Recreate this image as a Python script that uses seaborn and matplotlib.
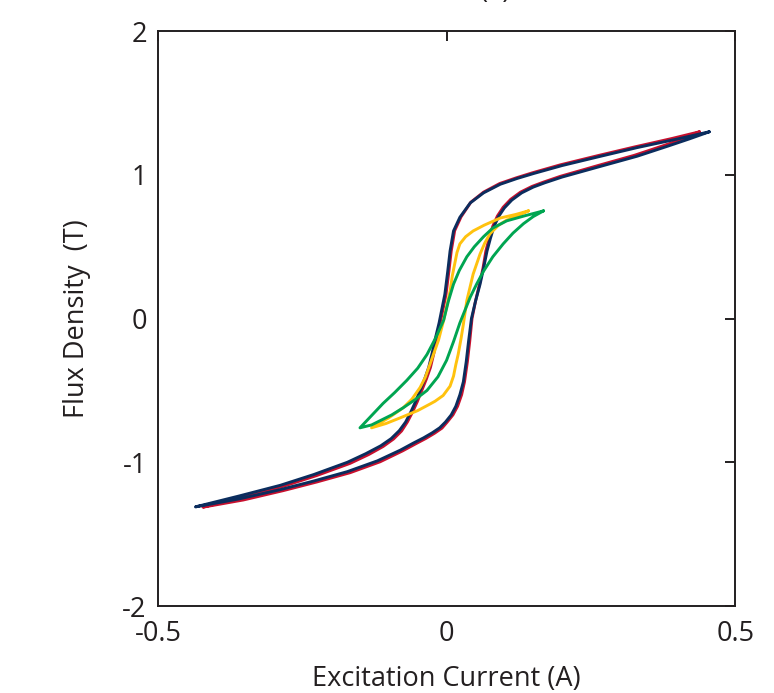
import numpy as np
import pandas as pd
import matplotlib
matplotlib.use("Agg")
import matplotlib.pyplot as plt
import seaborn as sns

# ---- data ----
blue_x = [0.455, 0.400, 0.330, 0.267, 0.200, 0.151, 0.122, 0.093, 0.064, 0.041, 0.023, 0.012, 0.006,
          0.002, -0.003, -0.008, -0.013, -0.019, -0.025, -0.031, -0.038, -0.046, -0.054, -0.062,
          -0.071, -0.082, -0.096, -0.114, -0.140, -0.172, -0.230, -0.288, -0.360, -0.435,
          -0.360, -0.288, -0.230, -0.172, -0.120, -0.080, -0.057, -0.040, -0.025, -0.012, -0.002,
          0.008, 0.016, 0.023, 0.029, 0.034, 0.038, 0.043, 0.050, 0.058, 0.064, 0.070, 0.076,
          0.082, 0.090, 0.100, 0.113, 0.130, 0.150, 0.170, 0.200, 0.267, 0.330, 0.383, 0.420, 0.455]
blue_y = [1.300, 1.250, 1.190, 1.130, 1.065, 1.010, 0.975, 0.935, 0.875, 0.805, 0.705, 0.610, 0.470,
          0.330, 0.170, 0.070, -0.030, -0.130, -0.240, -0.340, -0.420, -0.500, -0.580, -0.650,
          -0.720, -0.780, -0.835, -0.885, -0.940, -1.000, -1.085, -1.160, -1.235, -1.310,
          -1.255, -1.190, -1.130, -1.065, -0.990, -0.915, -0.865, -0.830, -0.795, -0.760, -0.720,
          -0.670, -0.610, -0.530, -0.440, -0.300, -0.160, 0.000, 0.120, 0.240, 0.350, 0.470, 0.560,
          0.640, 0.710, 0.770, 0.825, 0.875, 0.915, 0.945, 0.985, 1.060, 1.130, 1.200, 1.250, 1.300]

red_x = [0.438, 0.390, 0.325, 0.263, 0.197, 0.149, 0.121, 0.092, 0.064, 0.042, 0.025, 0.014, 0.008,
         0.004, -0.001, -0.006, -0.011, -0.017, -0.022, -0.028, -0.035, -0.043, -0.051, -0.059,
         -0.068, -0.078, -0.092, -0.110, -0.135, -0.167, -0.225, -0.283, -0.352, -0.422,
         -0.352, -0.283, -0.225, -0.167, -0.115, -0.076, -0.053, -0.036, -0.021, -0.008, 0.001,
         0.011, 0.019, 0.026, 0.031, 0.036, 0.040, 0.044, 0.050, 0.057, 0.063, 0.068, 0.074,
         0.080, 0.088, 0.098, 0.111, 0.128, 0.148, 0.168, 0.197, 0.263, 0.325, 0.376, 0.410, 0.438]
red_y = [1.300, 1.253, 1.194, 1.135, 1.070, 1.015, 0.980, 0.940, 0.880, 0.810, 0.708, 0.612, 0.470,
         0.330, 0.170, 0.070, -0.030, -0.130, -0.240, -0.340, -0.420, -0.500, -0.580, -0.650,
         -0.720, -0.782, -0.838, -0.890, -0.946, -1.007, -1.092, -1.167, -1.242, -1.312,
         -1.262, -1.197, -1.137, -1.072, -0.996, -0.920, -0.870, -0.834, -0.798, -0.762, -0.720,
         -0.670, -0.610, -0.530, -0.440, -0.300, -0.160, 0.000, 0.120, 0.240, 0.350, 0.470, 0.562,
         0.643, 0.714, 0.775, 0.830, 0.880, 0.920, 0.950, 0.990, 1.066, 1.136, 1.204, 1.252, 1.300]

yellow_x = [0.142, 0.120, 0.093, 0.065, 0.046, 0.033, 0.023, 0.018, 0.015, 0.010, 0.006, -0.005,
            -0.014, -0.022, -0.029, -0.037, -0.046, -0.060, -0.075, -0.100, -0.130,
            -0.105, -0.080, -0.050, -0.029, -0.020, -0.006, 0.006, 0.012, 0.016, 0.020, 0.025,
            0.029, 0.035, 0.046, 0.052, 0.058, 0.066, 0.075, 0.090, 0.104, 0.125, 0.142]
yellow_y = [0.750, 0.725, 0.700, 0.650, 0.610, 0.570, 0.520, 0.460, 0.400, 0.300, 0.190, -0.010,
            -0.150, -0.240, -0.320, -0.410, -0.480, -0.560, -0.620, -0.690, -0.760,
            -0.730, -0.690, -0.640, -0.595, -0.575, -0.535, -0.470, -0.400, -0.320, -0.250, -0.140,
            -0.040, 0.125, 0.310, 0.380, 0.450, 0.525, 0.590, 0.650, 0.685, 0.720, 0.750]

green_x = [0.168, 0.135, 0.104, 0.080, 0.064, 0.048, 0.035, 0.022, 0.012, 0.003, -0.005, -0.019,
           -0.034, -0.050, -0.069, -0.090, -0.110, -0.130, -0.150,
           -0.130, -0.115, -0.095, -0.075, -0.055, -0.034, -0.015, 0.000, 0.012, 0.023, 0.041,
           0.052, 0.064, 0.080, 0.098, 0.115, 0.133, 0.150, 0.168]
green_y = [0.750, 0.715, 0.680, 0.630, 0.570, 0.500, 0.430, 0.335, 0.240, 0.120, -0.010, -0.135,
           -0.250, -0.345, -0.430, -0.515, -0.590, -0.675, -0.760,
           -0.740, -0.710, -0.670, -0.620, -0.565, -0.500, -0.405, -0.290, -0.160, -0.030, 0.150,
           0.240, 0.330, 0.430, 0.520, 0.595, 0.660, 0.710, 0.750]

x_ticks = [-0.5, 0, 0.5]
x_tick_labels = ["-0.5", "0", "0.5"]
y_ticks = [-2, -1, 0, 1, 2]
y_tick_labels = ["-2", "-1", "0", "1", "2"]

loops = {"red": (red_x, red_y), "blue": (blue_x, blue_y),
         "yellow": (yellow_x, yellow_y), "green": (green_x, green_y)}
frames = []
for name, (xs, ys) in loops.items():
    frames.append(pd.DataFrame({"H": xs, "B": ys, "loop": name}))
df = pd.concat(frames, ignore_index=True)

palette = {"red": "#C8102E", "blue": "#0B2D5E", "yellow": "#FFC20E", "green": "#00A551"}

sns.set_theme(style="white")
plt.rcParams["font.family"] = ["Open Sans", "DejaVu Sans"]
plt.rcParams["axes.unicode_minus"] = False

fig = plt.figure(figsize=(7.74, 6.93), dpi=100)
ax = fig.add_axes([0.204, 0.1255, 0.746, 0.8295])

sns.lineplot(data=df, x="H", y="B", hue="loop", units="loop", estimator=None, sort=False,
             palette=palette, hue_order=["red", "blue", "yellow", "green"],
             linewidth=2.1, legend=False, ax=ax)
for ln in ax.lines:
    ln.set_solid_joinstyle("round")
    ln.set_solid_capstyle("round")

ax.set_xlim(-0.5, 0.5)
ax.set_ylim(-2, 2)
ax.set_xticks(x_ticks)
ax.set_xticklabels(x_tick_labels)
ax.set_yticks(y_ticks)
ax.set_yticklabels(y_tick_labels)
ax.set_xlabel("Excitation Current (A)", fontsize=19.5, color="#231F20")
ax.set_ylabel("Flux Density  (T)", fontsize=19.5, color="#231F20")
ax.xaxis.set_label_coords(0.5, -0.102)
ax.yaxis.set_label_coords(-0.115, 0.5)
ax.tick_params(direction="in", length=7, width=1.4, top=True, right=True,
               labelsize=19.5, colors="#231F20")
ax.tick_params(axis="x", pad=10)
ax.tick_params(axis="y", pad=8)
for s in ax.spines.values():
    s.set_visible(True)
    s.set_color("#231F20")
    s.set_linewidth(1.4)
ax.grid(False)

fig.text(496 / 774, 1.0 + 2.5 / 693, "(a)", ha="center", va="baseline", fontsize=19.5, color="#231F20")

fig.savefig("out.png", dpi=100)
